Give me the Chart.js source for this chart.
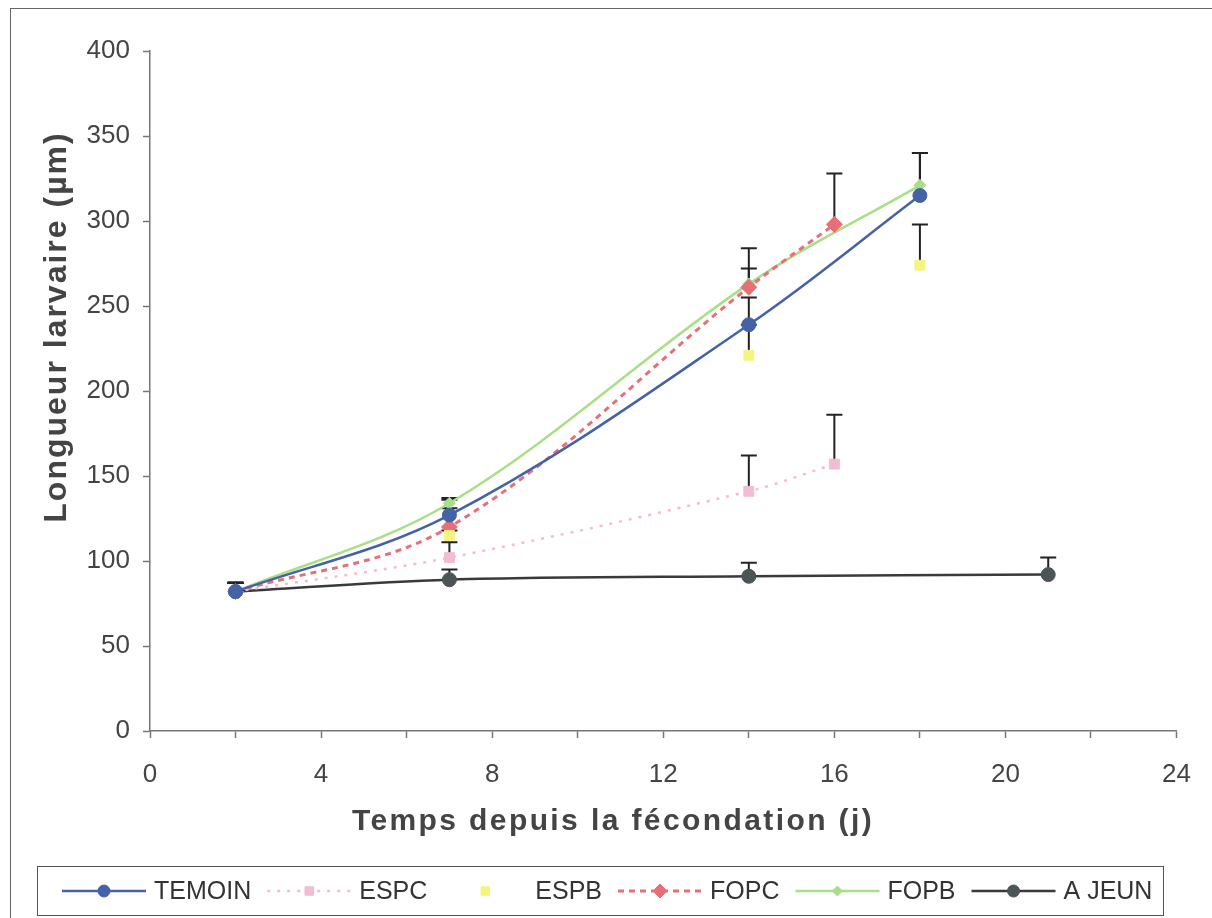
<!DOCTYPE html>
<html lang="fr">
<head>
<meta charset="UTF-8">
<title>Longueur larvaire</title>
<script src="https://cdn.jsdelivr.net/npm/chart.js"></script>
<style>
  body { margin: 0; background: #fff; overflow: hidden; }
  #frame { position: absolute; left: 10px; top: 8px; width: 1300px; height: 1000px; border: 1px solid #666; }
  #wrap { position: absolute; left: 0; top: 0; width: 1212px; height: 918px; }
</style>
</head>
<body>
<div id="frame"></div>
<div id="wrap"><canvas id="chart" width="1212" height="918"></canvas></div>
<script>
  // jours et longueurs (µm), écart-type au-dessus
  const xTemoin = [2, 7, 14, 18];
  const yTemoin = [82, 127, 239, 315];
  const eTemoin = [5, 4, 16, 25];

  const xEspc = [2, 7, 14, 16];
  const yEspc = [82, 102, 141, 157];
  const eEspc = [5, 9, 21, 29];

  const xEspb = [2, 7, 14, 18];
  const yEspb = [82, 115, 221, 274];
  const eEspb = [5, 3, 18, 24];

  const xFopc = [2, 7, 14, 16];
  const yFopc = [82, 120, 261, 298];
  const eFopc = [5, 16, 11, 30];

  const xFopb = [2, 7, 14, 18];
  const yFopb = [82, 134, 263, 321];
  const eFopb = [5, 3, 21, 19];

  const xJeun = [2, 7, 14, 21];
  const yJeun = [82, 89, 91, 92];
  const eJeun = [5.5, 6, 8, 10];

  const xTickMarks = [0, 2, 4, 6, 8, 10, 12, 14, 16, 18, 20, 22, 24];
  const xTickLabels = [0, 4, 8, 12, 16, 20, 24];
  const yTicks = [0, 50, 100, 150, 200, 250, 300, 350, 400];

  const xTitle = 'Temps depuis la fécondation (j)';
  const yTitle = 'Longueur larvaire (µm)';

  const pts = (xs, ys) => xs.map((x, i) => ({ x: x, y: ys[i] }));
  const FONT = "'Liberation Sans', Arial, sans-serif";

  const datasets = [
    { label: 'TEMOIN', data: pts(xTemoin, yTemoin), err: eTemoin, borderColor: '#4662A6', backgroundColor: '#4662A6',
      borderWidth: 2.5, pointStyle: 'circle', pointRadius: 7 },
    { label: 'ESPC', data: pts(xEspc, yEspc), err: eEspc, borderColor: '#F2BCD4', backgroundColor: '#F2BCD4',
      borderWidth: 2.5, borderDash: [3, 7], pointStyle: 'rect', pointRadius: 7 },
    { label: 'ESPB', data: pts(xEspb, yEspb), err: eEspb, borderColor: '#F4F57E', backgroundColor: '#F4F57E',
      borderWidth: 2, showLine: false, pointStyle: 'rect', pointRadius: 7 },
    { label: 'FOPC', data: pts(xFopc, yFopc), err: eFopc, borderColor: '#E77078', backgroundColor: '#E77078',
      borderWidth: 3, borderDash: [6, 5], pointStyle: 'rectRot', pointRadius: 8 },
    { label: 'FOPB', data: pts(xFopb, yFopb), err: eFopb, borderColor: '#A9DF87', backgroundColor: '#A9DF87',
      borderWidth: 2.5, pointStyle: 'rectRot', pointRadius: 6 },
    { label: 'A JEUN', data: pts(xJeun, yJeun), err: eJeun, borderColor: '#3a3a3a', backgroundColor: '#4B5556',
      borderWidth: 2.5, pointStyle: 'circle', pointRadius: 7, pointBorderColor: '#4B5556' }
  ];
  datasets.forEach(d => { d.tension = 0.35; d.fill = false; d.pointBorderWidth = 1; });

  // barres d'erreur (vers le haut seulement)
  const errorBars = {
    id: 'errorBars',
    beforeDatasetsDraw(chart) {
      const { ctx, scales: { x, y } } = chart;
      ctx.save();
      ctx.strokeStyle = '#222';
      ctx.lineWidth = 2;
      chart.data.datasets.forEach(ds => {
        ds.data.forEach((p, i) => {
          const px = x.getPixelForValue(p.x);
          const py = y.getPixelForValue(p.y);
          const top = y.getPixelForValue(p.y + ds.err[i]);
          ctx.beginPath();
          ctx.moveTo(px, py); ctx.lineTo(px, top);
          ctx.moveTo(px - 8, top); ctx.lineTo(px + 8, top);
          ctx.stroke();
        });
      });
      ctx.restore();
    }
  };

  // titres des axes, placés comme dans l'original (un peu décentrés, lettres espacées)
  const axisTitles = {
    id: 'axisTitles',
    afterDraw(chart) {
      const ctx = chart.ctx;
      ctx.save();
      ctx.fillStyle = '#444';
      ctx.textAlign = 'center';
      ctx.textBaseline = 'middle';
      ctx.font = 'bold 30px ' + FONT;
      ctx.letterSpacing = '2.4px';
      ctx.fillText(xTitle, 613, 822);
      ctx.translate(57, 327);
      ctx.rotate(-Math.PI / 2);
      ctx.font = 'bold 32px ' + FONT;
      ctx.letterSpacing = '2px';
      ctx.fillText(yTitle, 0, 0);
      ctx.restore();
    }
  };

  // légende en bas, façon Excel
  const excelLegend = {
    id: 'excelLegend',
    afterDraw(chart) {
      const ctx = chart.ctx;
      ctx.save();
      ctx.strokeStyle = '#555';
      ctx.lineWidth = 1;
      ctx.strokeRect(37.5, 866.5, 1126, 49);
      ctx.font = '25px ' + FONT;
      ctx.textBaseline = 'middle';
      ctx.textAlign = 'left';
      const cy = 891;
      let cx = 104;
      chart.data.datasets.forEach(ds => {
        if (ds.showLine !== false) {
          ctx.save();
          ctx.strokeStyle = ds.borderColor;
          ctx.lineWidth = ds.borderWidth;
          ctx.setLineDash(ds.borderDash || []);
          ctx.beginPath();
          ctx.moveTo(cx - 42, cy); ctx.lineTo(cx + 42, cy);
          ctx.stroke();
          ctx.restore();
        }
        ctx.fillStyle = ds.backgroundColor;
        ctx.strokeStyle = ds.pointBorderColor || ds.borderColor;
        Chart.helpers.drawPoint(ctx, { pointStyle: ds.pointStyle, radius: ds.pointRadius - 1, rotation: 0, borderWidth: 1 }, cx, cy);
        ctx.fillStyle = '#333';
        ctx.fillText(ds.label, cx + 50, cy + 1);
        cx += 50 + ctx.measureText(ds.label).width + 58;
      });
      ctx.restore();
    }
  };

  new Chart(document.getElementById('chart'), {
    type: 'line',
    data: { datasets: datasets },
    plugins: [errorBars, axisTitles, excelLegend],
    options: {
      responsive: false,
      animation: false,
      layout: { padding: { left: 0, right: 35, top: 51, bottom: 77 } },
      plugins: { legend: { display: false }, tooltip: { enabled: false } },
      scales: {
        x: {
          type: 'linear', position: 'bottom', min: 0, max: 24,
          afterBuildTicks: s => { s.ticks = xTickMarks.map(v => ({ value: v })); },
          afterFit: s => { s.height = 110; },
          border: { color: '#777', width: 1.5 },
          grid: { drawOnChartArea: false, drawTicks: true, tickLength: 7, tickColor: '#777', tickWidth: 1.5 },
          ticks: { autoSkip: false, maxRotation: 0, padding: 21, color: '#444', font: { family: FONT, size: 26 },
                   callback: v => xTickLabels.includes(v) ? String(v) : '' },
          title: { display: false }
        },
        y: {
          min: 0, max: 400,
          afterBuildTicks: s => { s.ticks = yTicks.map(v => ({ value: v })); },
          afterFit: s => { s.width = 150; },
          border: { color: '#777', width: 1.5 },
          grid: { drawOnChartArea: false, drawTicks: true, tickLength: 7, tickColor: '#777', tickWidth: 1.5 },
          ticks: { padding: 13, color: '#444', font: { family: FONT, size: 26 } },
          title: { display: false }
        }
      }
    }
  });
</script>
</body>
</html>
